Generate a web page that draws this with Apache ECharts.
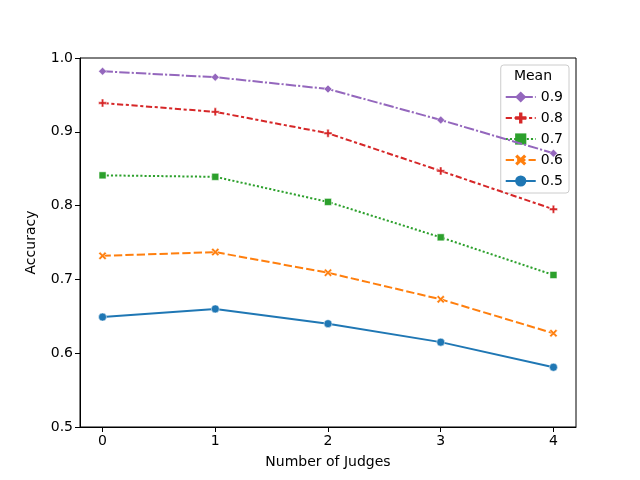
<!DOCTYPE html>
<html>
<head>
<meta charset="utf-8">
<script src="https://cdn.jsdelivr.net/npm/echarts@6/dist/echarts.min.js"></script>
<style>
  html, body { margin: 0; padding: 0; background: #fff; }
  #chart { width: 640px; height: 480px; }
</style>
</head>
<body>
<div id="chart"></div>
<script>
// judges count on the x axis
const judges = [0, 1, 2, 3, 4];
const yTicks = [0.5, 0.6, 0.7, 0.8, 0.9, 1.0];

// accuracy per mean
const acc05 = [0.649, 0.660, 0.640, 0.615, 0.581];
const acc06 = [0.732, 0.737, 0.709, 0.673, 0.627];
const acc07 = [0.841, 0.839, 0.805, 0.757, 0.706];
const acc08 = [0.939, 0.927, 0.898, 0.847, 0.795];
const acc09 = [0.982, 0.974, 0.958, 0.916, 0.871];

const names = ['0.5', '0.6', '0.7', '0.8', '0.9'];
const values = [acc05, acc06, acc07, acc08, acc09];

const colors = ['#1f77b4', '#ff7f0e', '#2ca02c', '#d62728', '#9467bd'];
const dashes = ['solid', [8.3, 3.1], [2.1, 2.1], [6.2, 2.6, 3.1, 2.6], [10.4, 2.1, 2.1, 2.1]];
const plusPath = 'path://M3.5,0H6.5V3.5H10V6.5H6.5V10H3.5V6.5H0V3.5H3.5Z';
const xPath = 'path://M0,2L2,0L5,3L8,0L10,2L7,5L10,8L8,10L5,7L2,10L0,8L3,5Z';
const symbols = ['circle', xPath, 'rect', plusPath, 'diamond'];
const sizes = [8, 8, 7, 8, 8];

const font = 'DejaVu Sans';

const chart = echarts.init(document.getElementById('chart'));

const series = names.map((n, i) => ({
    name: n,
    type: 'line',
    data: judges.map((j, k) => [j, values[i][k]]),
    symbol: symbols[i],
    symbolSize: sizes[i],
    showSymbol: true,
    animation: false,
    itemStyle: { color: colors[i], borderColor: '#fff', borderWidth: 0.5 },
    lineStyle: { color: colors[i], width: 2, type: dashes[i] },
    z: 2 + i
}));

chart.setOption({
    animation: false,
    grid: { left: 80, right: 64, top: 58, bottom: 53, show: true, borderColor: '#000', borderWidth: 1 },
    xAxis: {
        type: 'value',
        min: -0.2,
        max: 4.2,
        name: 'Number of Judges',
        nameLocation: 'middle',
        nameGap: 28,
        nameTextStyle: { fontFamily: font, fontSize: 14, color: '#000' },
        axisLine: { show: true, onZero: false, lineStyle: { color: '#000' } },
        axisTick: { show: true, length: 5, lineStyle: { color: '#000' }, customValues: judges },
        axisLabel: { fontFamily: font, fontSize: 14, color: '#000', margin: 7, customValues: judges },
        splitLine: { show: false }
    },
    yAxis: {
        type: 'value',
        min: 0.5,
        max: 1.0,
        name: 'Accuracy',
        nameLocation: 'middle',
        nameGap: 42,
        nameTextStyle: { fontFamily: font, fontSize: 14, color: '#000' },
        axisLine: { show: true, onZero: false, lineStyle: { color: '#000' } },
        axisTick: { show: true, length: 5, lineStyle: { color: '#000' }, customValues: yTicks },
        axisLabel: {
            fontFamily: font, fontSize: 14, color: '#000', margin: 7,
            customValues: yTicks,
            formatter: v => v.toFixed(1)
        },
        splitLine: { show: false }
    },
    legend: {
        orient: 'vertical',
        right: 71,
        top: 65,
        data: names.slice().reverse(),
        padding: [25, 6, 5, 4],
        itemWidth: 30,
        itemHeight: 14,
        itemGap: 7,
        itemStyle: { borderWidth: 0 },
        backgroundColor: 'rgba(255,255,255,0.8)',
        borderColor: '#cccccc',
        borderWidth: 1,
        borderRadius: 3,
        textStyle: { fontFamily: font, fontSize: 14, color: '#000' }
    },
    graphic: [{
        type: 'text',
        x: 533,
        y: 76,
        z: 100,
        style: { text: 'Mean', textAlign: 'center', textVerticalAlign: 'middle', font: '14px "DejaVu Sans"', fill: '#000' }
    }],
    series: series
});
</script>
</body>
</html>
